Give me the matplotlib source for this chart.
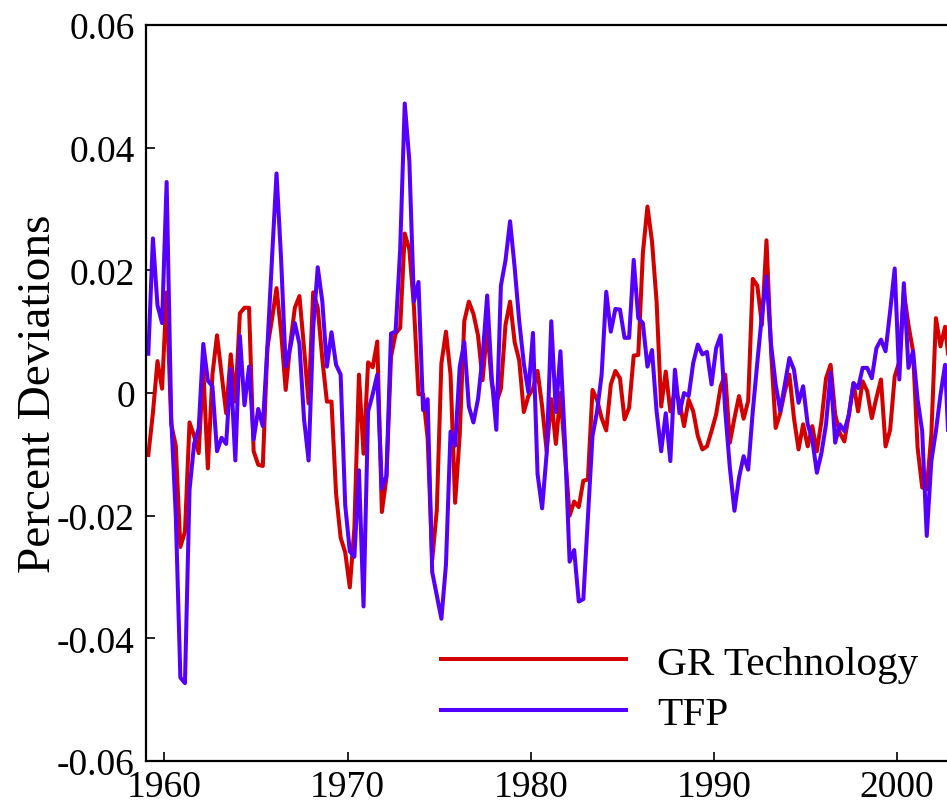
import numpy as np
import matplotlib
matplotlib.use("Agg")
from matplotlib import pyplot as plt

plt.rcParams["font.family"] = ["Liberation Serif", "DejaVu Serif"]
plt.rcParams["axes.unicode_minus"] = False

# quarterly series, first quarter is 1959Q1
start_year = 1959

gr_technology = [
    -0.0101, -0.0033, 0.0052, 0.0007, 0.0164, -0.0051, -0.0086, -0.0251,
    -0.0226, -0.0048, -0.0070, -0.0098, 0.0040, -0.0123, 0.0030, 0.0094,
    0.0030, -0.0033, 0.0063, -0.0014, 0.0130, 0.0139, 0.0139, -0.0095,
    -0.0117, -0.0119, 0.0074, 0.0120, 0.0171, 0.0099, 0.0005, 0.0080,
    0.0139, 0.0158, 0.0074, -0.0017, 0.0164, 0.0139, 0.0055, -0.0014,
    -0.0014, -0.0164, -0.0236, -0.0260, -0.0317, -0.0220, 0.0030, -0.0099,
    0.0050, 0.0042, 0.0084, -0.0194, -0.0138, 0.0059, 0.0097, 0.0106,
    0.0260, 0.0234, 0.0141, -0.0002, -0.0002, -0.0074, -0.0272, -0.0191,
    0.0048, 0.0100, 0.0030, -0.0179, -0.0069, 0.0117, 0.0149, 0.0129,
    0.0094, 0.0021, 0.0106, 0.0016, -0.0016, 0.0007, 0.0111, 0.0149,
    0.0083, 0.0053, -0.0031, -0.0005, 0.0007, 0.0036, -0.0022, -0.0095,
    -0.0010, -0.0083, 0.0000, -0.0099, -0.0200, -0.0177, -0.0186, -0.0143,
    -0.0141, 0.0005, -0.0011, -0.0041, -0.0061, 0.0014, 0.0036, 0.0024,
    -0.0043, -0.0024, 0.0061, 0.0062, 0.0228, 0.0304, 0.0247, 0.0149,
    -0.0022, 0.0035, -0.0030, 0.0003, -0.0014, -0.0054, -0.0011, -0.0030,
    -0.0070, -0.0092, -0.0087, -0.0062, -0.0035, 0.0011, 0.0030, -0.0081,
    -0.0041, -0.0005, -0.0042, -0.0013, 0.0186, 0.0175, 0.0111, 0.0249,
    0.0068, -0.0057, -0.0033, 0.0003, 0.0030, -0.0041, -0.0092, -0.0051,
    -0.0087, -0.0054, -0.0095, -0.0046, 0.0024, 0.0046, -0.0035, -0.0065,
    -0.0079, -0.0035, 0.0016, -0.0030, 0.0019, 0.0003, -0.0041, -0.0008,
    0.0022, -0.0087, -0.0060, 0.0027, 0.0051, 0.0165, 0.0111, 0.0068,
    -0.0089, -0.0154, -0.0157, -0.0068, 0.0122, 0.0076, 0.0108, 0.0040,
]

tfp = [
    0.0064, 0.0252, 0.0143, 0.0114, 0.0344, -0.0040, -0.0200, -0.0464,
    -0.0473, -0.0158, -0.0083, -0.0058, 0.0080, 0.0020, 0.0011, -0.0095,
    -0.0073, -0.0083, 0.0039, -0.0110, 0.0093, -0.0020, 0.0043, -0.0076,
    -0.0026, -0.0054, 0.0074, 0.0218, 0.0358, 0.0218, 0.0043, 0.0074,
    0.0114, 0.0080, -0.0042, -0.0110, 0.0105, 0.0205, 0.0149, 0.0043,
    0.0099, 0.0046, 0.0030, -0.0183, -0.0258, -0.0267, -0.0126, -0.0348,
    -0.0030, -0.0002, 0.0030, -0.0156, -0.0135, 0.0097, 0.0100, 0.0234,
    0.0472, 0.0379, 0.0149, 0.0181, -0.0028, -0.0010, -0.0292, -0.0330,
    -0.0368, -0.0280, -0.0063, -0.0086, 0.0042, 0.0083, -0.0022, -0.0048,
    -0.0010, 0.0059, 0.0159, 0.0024, -0.0060, 0.0175, 0.0216, 0.0280,
    0.0205, 0.0117, 0.0048, 0.0001, 0.0098, -0.0132, -0.0188, -0.0098,
    0.0117, -0.0031, 0.0068, -0.0082, -0.0275, -0.0256, -0.0340, -0.0336,
    -0.0203, -0.0070, -0.0030, 0.0030, 0.0165, 0.0100, 0.0137, 0.0136,
    0.0090, 0.0090, 0.0217, 0.0122, 0.0114, 0.0043, 0.0070, -0.0030,
    -0.0095, -0.0033, -0.0111, 0.0038, -0.0033, 0.0000, -0.0005, 0.0049,
    0.0079, 0.0063, 0.0067, 0.0014, 0.0073, 0.0094, -0.0030, -0.0122,
    -0.0192, -0.0138, -0.0103, -0.0125, -0.0030, 0.0050, 0.0127, 0.0190,
    0.0079, 0.0014, -0.0029, 0.0014, 0.0057, 0.0038, -0.0016, 0.0011,
    -0.0051, -0.0076, -0.0130, -0.0098, -0.0051, 0.0033, -0.0081, -0.0051,
    -0.0062, -0.0035, 0.0016, 0.0008, 0.0041, 0.0041, 0.0024, 0.0073,
    0.0087, 0.0068, 0.0133, 0.0203, 0.0022, 0.0179, 0.0041, 0.0068,
    -0.0011, -0.0062, -0.0233, -0.0111, -0.0062, -0.0003, 0.0046, -0.0120,
]

year_ticks = [1960, 1970, 1980, 1990, 2000]
value_ticks = [-0.06, -0.04, -0.02, 0, 0.02, 0.04, 0.06]
value_labels = ["-0.06", "-0.04", "-0.02", "0", "0.02", "0.04", "0.06"]

# mid-quarter positions
quarters = start_year + (np.arange(len(tfp)) + 0.5) / 4

fig = plt.figure(figsize=(9.47, 8.04), dpi=100)
ax = fig.add_axes([0.1542, 0.0522, 0.8458, 0.9155])

ax.plot(quarters, gr_technology, color="#d40000", linewidth=2.9, label="GR Technology")
ax.plot(quarters, tfp, color="#5500ff", linewidth=2.9, label="TFP")

ax.set_xlim(1959.0, 2002.73)
ax.set_ylim(-0.06, 0.06)
ax.set_xticks(year_ticks)
ax.set_yticks(value_ticks)
ax.set_yticklabels(value_labels)

for side in ("left", "bottom", "top"):
    ax.spines[side].set_linewidth(1.6)
ax.spines["right"].set_visible(False)

ax.tick_params(direction="in", length=6.5, width=1.2, labelsize=27, top=False, right=False)
ax.tick_params(axis="x", pad=6)
ax.tick_params(axis="y", pad=8)

ax.set_ylabel("Percent Deviations", fontsize=34)
ax.yaxis.set_label_coords(-0.108, 0.5)

ax.legend(
    loc="center left",
    bbox_to_anchor=(0.368, 0.098),
    frameon=False,
    fontsize=29.7,
    handlelength=4.5,
    handletextpad=0.75,
    labelspacing=0.3,
    borderpad=0,
    borderaxespad=0,
)

fig.savefig("out.png", dpi=100)
plt.close(fig)
